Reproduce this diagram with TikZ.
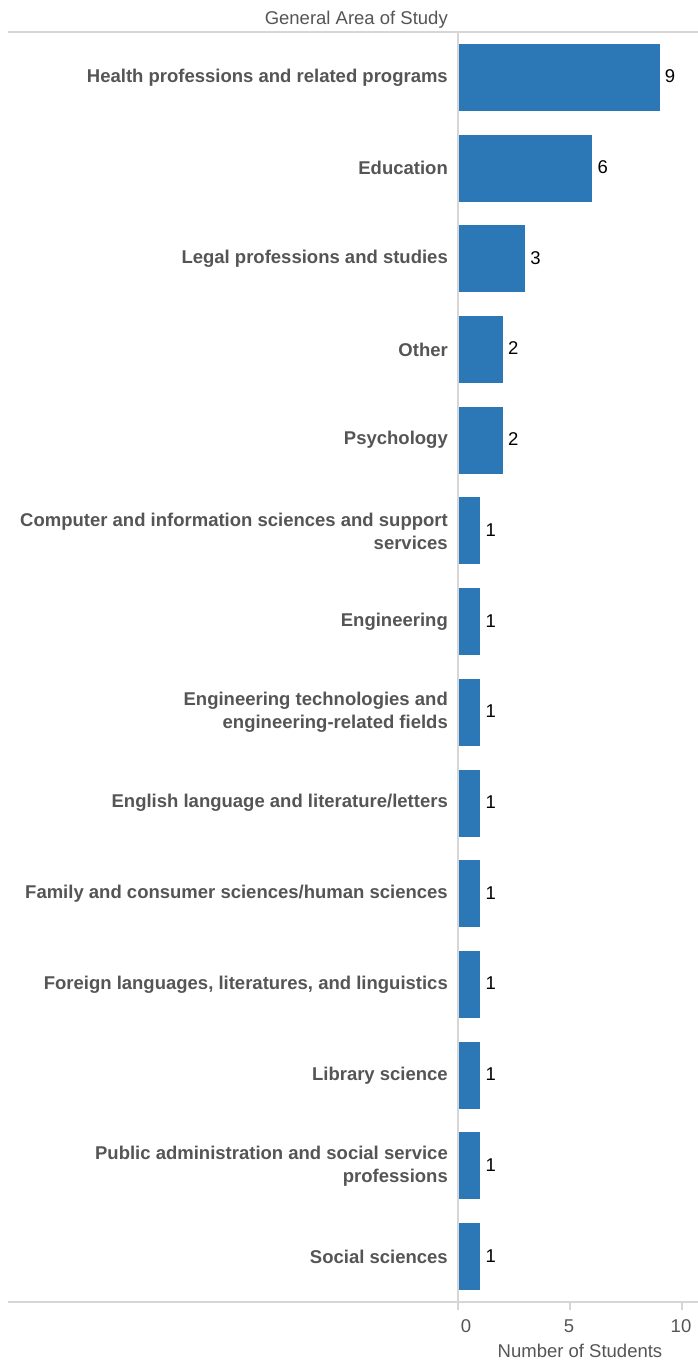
\documentclass[tikz,border=0pt]{standalone}
\usepackage{fontspec}
\setmainfont{Liberation Sans}
\definecolor{barblue}{RGB}{44,120,182}
\definecolor{labgray}{RGB}{85,85,85}
\definecolor{axgray}{RGB}{214,214,214}
\begin{document}
\begin{tikzpicture}[x=1pt,y=-1pt,
		cat/.style={anchor=east,align=right,font=\fontsize{18.5}{23}\selectfont\bfseries,text=labgray,inner sep=0pt},
		val/.style={anchor=west,font=\fontsize{18.5}{22}\selectfont,inner sep=0pt},
		axtext/.style={font=\fontsize{18.5}{22}\selectfont,text=labgray,inner sep=0pt}]
		\useasboundingbox (0,0) rectangle (698,1361);
		% frame lines
		\draw[axgray,line width=1.5pt] (8,32) -- (698,32);
		\draw[axgray,line width=1.5pt] (8,1302) -- (698,1302);
		\draw[axgray,line width=1.5pt] (458,32) -- (458,1310);
		\draw[axgray,line width=1.5pt] \foreach \k in {5,10} {(458+22.4*\k,1302) -- (458+22.4*\k,1310)};
		% bars
		\foreach \v/\t [count=\i] in {9/Health professions and related programs,
			6/Education,3/Legal professions and studies,2/Other,2/Psychology,
			1/{Computer and information sciences and support\\services},
			1/Engineering,
			1/{Engineering technologies and\\engineering-related fields},
			1/{English language and literature/letters},
			1/{Family and consumer sciences/human sciences},
			1/{Foreign languages, literatures, and linguistics},
			1/Library science,
			1/{Public administration and social service\\professions},
			1/Social sciences}
		{
			\pgfmathsetmacro{\y}{32+90.714*(\i-0.5)}
			\fill[barblue] (459,\y-33.5) rectangle (458+22.4*\v,\y+33.5);
			\node[cat] (lab\i) at (448,\y) {\t};
			\node[val] (val\i) at (458+22.4*\v+5,\y-1) {\v};
		}
		% axis texts
		\node[axtext,anchor=east] (title) at (448,20) {General Area of Study};
		\node[axtext] (t0) at (466,1326) {0};
		\node[axtext] (t5) at (569,1326) {5};
		\node[axtext] (t10) at (681,1326) {10};
		\node[axtext] (xlab) at (580,1351) {Number of Students};
\end{tikzpicture}
\end{document}
